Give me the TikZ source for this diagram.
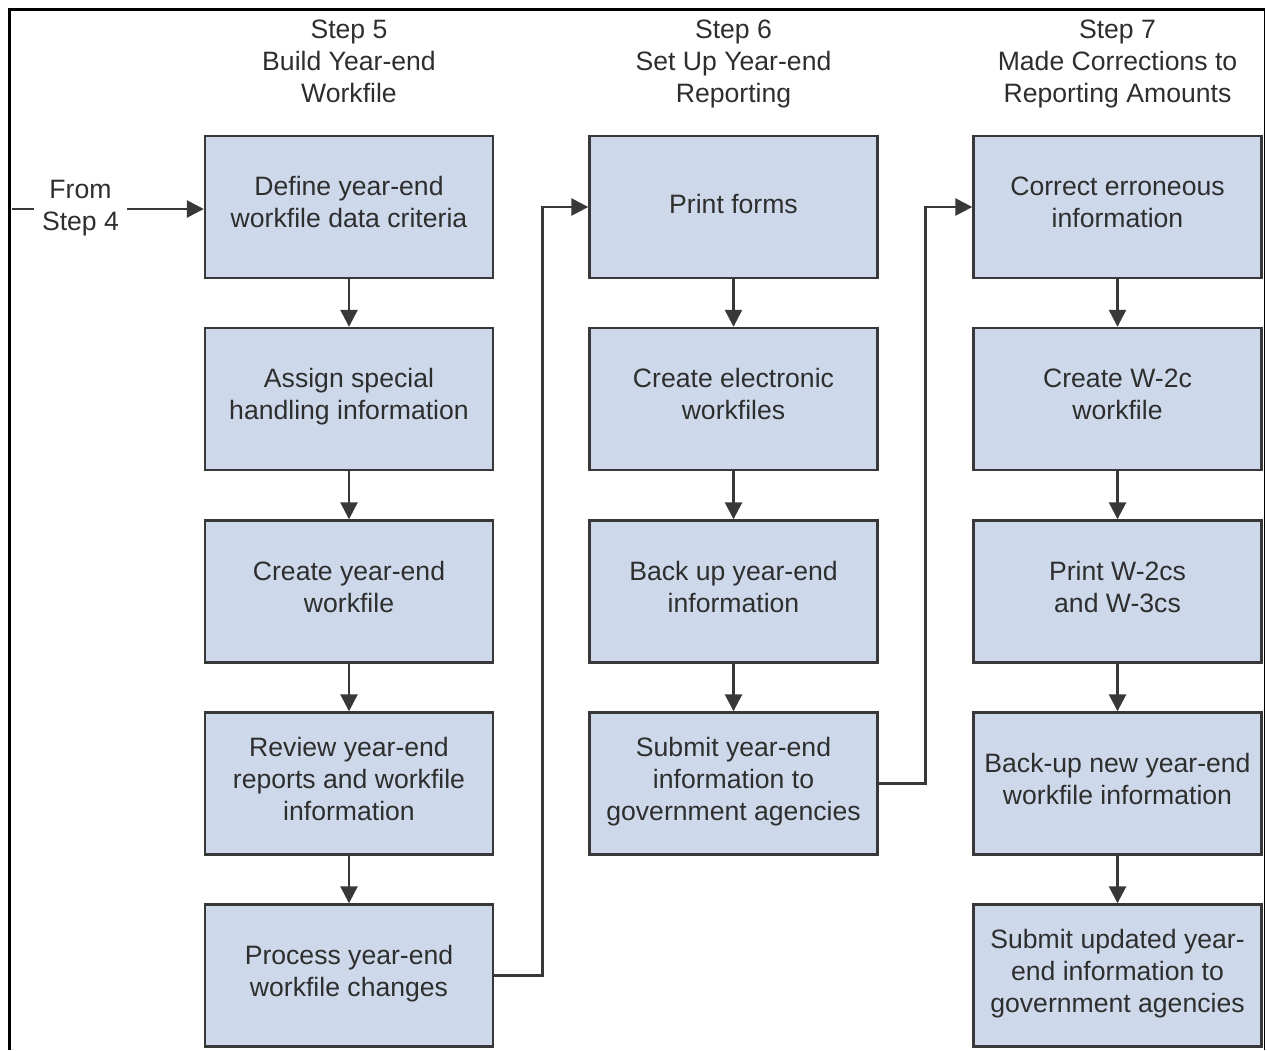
\documentclass[tikz,border=0pt]{standalone}
\usepackage{fontspec}
\setmainfont{Liberation Sans}
\usetikzlibrary{arrows.meta}
\definecolor{boxfill}{HTML}{CDD9EA}
\definecolor{boxline}{HTML}{383838}
\definecolor{txt}{HTML}{2E2E2E}
\newcommand{\mydepthrule}{\rule[-2.8pt]{0pt}{2.8pt}}
\begin{document}
\begin{tikzpicture}[x=0.5pt,y=-0.5pt,
  every node/.style={font=\fontsize{13.3pt}{16pt}\selectfont, text=txt, align=center,
    execute at begin node=\strut, execute at end node=\mydepthrule},
  stepbox/.style={draw=boxline, line width=1.2pt, fill=boxfill, minimum width=144pt, minimum height=71pt, inner sep=0pt},
  header/.style={inner sep=0pt},
  conn/.style={draw=boxline, line width=1.3pt},
  arr/.style={conn, -{Triangle[length=8.5pt,width=8.5pt]}},
  frame/.style={draw=black, line width=1.5pt}]
\useasboundingbox (0,0) rectangle (1267,1050);
% frame
\coordinate (fbl) at (9,1050);
\coordinate (ftl) at (9,9);
\coordinate (ftr) at (1264.5,9);
\coordinate (fbr) at (1264.5,1050);
\draw[frame] (fbl) -- (ftl) -- (ftr);
\draw[draw=black, line width=0.9pt] (ftr) -- (fbr);
% headers
\node[header] (h5) at (349,66) {Step 5\\Build Year-end\\Workfile};
\node[header] (h6) at (733.5,66) {Step 6\\Set Up Year-end\\Reporting};
\node[header] (h7) at (1117.5,66) {Step 7\\Made Corrections to\\Reporting Amounts};
% column 1
\node[stepbox] (a1) at (349,207) {Define year-end\\workfile data criteria};
\node[stepbox] (a2) at (349,399) {Assign special\\handling information};
\node[stepbox] (a3) at (349,591.5) {Create year-end\\workfile};
\node[stepbox] (a4) at (349,783.5) {Review year-end\\reports and workfile\\information};
\node[stepbox] (a5) at (349,975.5) {Process year-end\\workfile changes};
% column 2
\node[stepbox] (b1) at (733.5,207) {Print forms};
\node[stepbox] (b2) at (733.5,399) {Create electronic\\workfiles};
\node[stepbox] (b3) at (733.5,591.5) {Back up year-end\\information};
\node[stepbox] (b4) at (733.5,783.5) {Submit year-end\\information to\\government agencies};
% column 3
\node[stepbox] (c1) at (1117.5,207) {Correct erroneous\\information};
\node[stepbox] (c2) at (1117.5,399) {Create W-2c\\workfile};
\node[stepbox] (c3) at (1117.5,591.5) {Print W-2cs\\and W-3cs};
\node[stepbox] (c4) at (1117.5,783.5) {Back-up new year-end\\workfile information};
\node[stepbox] (c5) at (1117.5,975.5) {Submit updated year-\\end information to\\government agencies};
% from step 4
\node[inner xsep=4pt, inner ysep=0pt] (from) at (80.5,210) {From\\Step 4};
\coordinate (s4) at (12,209);
\draw[conn] (s4) -- (s4 -| from.west);
\draw[arr] (from.east |- s4) -- (s4 -| a1.west);
% vertical arrows
\draw[arr] (a1.south) -- (a2.north);
\draw[arr] (a2.south) -- (a3.north);
\draw[arr] (a3.south) -- (a4.north);
\draw[arr] (a4.south) -- (a5.north);
\draw[arr] (b1.south) -- (b2.north);
\draw[arr] (b2.south) -- (b3.north);
\draw[arr] (b3.south) -- (b4.north);
\draw[arr] (c1.south) -- (c2.north);
\draw[arr] (c2.south) -- (c3.north);
\draw[arr] (c3.south) -- (c4.north);
\draw[arr] (c4.south) -- (c5.north);
% cross-column connectors
\draw[arr] (a5.east) -- ++(48,0) |- (b1.west);
\draw[arr] (b4.east) -- ++(47,0) |- (c1.west);
\end{tikzpicture}
\end{document}
